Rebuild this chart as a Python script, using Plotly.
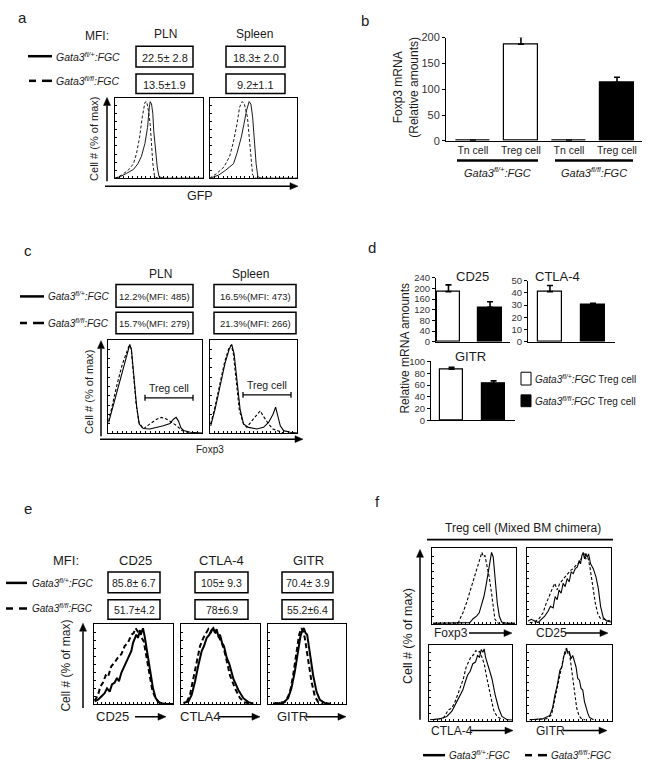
import math
import plotly.graph_objects as go

W, H = 650, 773
FONT = "Arial, Liberation Sans, sans-serif"

# ---------------- data ----------------
# panel a : GFP histograms (channel 0-100, % of max)
a_pln_solid_x = [0, 6, 13, 21, 26, 30, 34, 37, 39, 40, 41.5, 43, 44, 46, 48, 50, 55, 100]
a_pln_solid_y = [0, 2, 6, 11, 18, 27, 43, 63, 88, 95, 92, 80, 59, 35, 14, 2, 0, 0]
a_pln_dash_x = [0, 7.5, 15, 21, 24.5, 28, 31, 34, 36, 38, 40, 41.5, 43, 45, 49, 100]
a_pln_dash_y = [0, 4, 10, 18, 31, 51, 76, 94, 95, 84, 67, 43, 18, 2, 0, 0]
a_spl_solid_x = [0, 2, 10, 18, 27, 31, 36, 39, 42, 45, 47, 49, 51, 53, 55, 59, 100]
a_spl_solid_y = [0, 1, 4, 10, 18, 31, 51, 67, 84, 95, 92, 76, 47, 18, 2, 0, 0]
a_spl_dash_x = [0, 2, 8, 16, 22.5, 26.5, 31, 34, 37, 39.5, 43, 45, 47, 49, 53, 100]
a_spl_dash_y = [0, 2, 6, 14, 27, 43, 67, 88, 95, 92, 76, 51, 22, 4, 0, 0]

# panel b : Foxp3 mRNA
b_categories = ["Tn cell", "Treg cell", "Tn cell", "Treg cell"]
b_values = [1, 187, 1, 113]
b_errors = [0, 15, 0, 10]
b_colors = ["white", "white", "black", "black"]
b_groups = ["<i>Gata3<sup>fl/+</sup>:FGC</i>", "<i>Gata3<sup>fl/fl</sup>:FGC</i>"]

# panel c : Foxp3 histograms
c_pln_solid_x = [0.7, 5.4, 10.7, 16, 20.4, 23.2, 25, 27.5, 30.4, 33.2, 37.5, 44.6, 51.8, 58.9, 66, 69.6, 72.5, 75, 77.5, 80.4, 87.5, 100]
c_pln_solid_y = [11.6, 29, 50, 71, 85, 95, 89, 64, 29, 10, 5, 4.5, 6, 8, 10.5, 15, 17, 13, 6, 3, 1, 0.3]
c_pln_dash_x = [0.7, 4.6, 9.6, 15, 19.6, 22.5, 24.6, 27.1, 30, 32.9, 37.5, 44.6, 51.8, 57.1, 62.5, 67.9, 73.2, 78.6, 87.5]
c_pln_dash_y = [13, 31, 52, 73, 87, 94, 91, 66, 31, 11.6, 4.6, 10, 15, 17, 15, 11.6, 8, 3, 0.3]
c_spl_solid_x = [0.8, 5.8, 11.5, 17.3, 22.3, 25, 27.7, 30.8, 34.6, 38.5, 44.2, 53.8, 61.5, 67.3, 72.3, 75.4, 77.7, 80.8, 84.6, 92.3, 100]
c_spl_solid_y = [8, 25.6, 50, 75, 90.5, 95, 85, 57, 25.6, 10, 6.3, 4.6, 6.3, 11.6, 20, 28, 20, 8, 2.8, 1, 0.3]
c_spl_dash_x = [0.8, 5.4, 11.2, 16.9, 21.9, 24.6, 26.9, 30, 33.8, 38.5, 42.3, 48.1, 53.8, 57.7, 61.5, 67.3, 72.3, 76.9, 84.6]
c_spl_dash_y = [10, 27, 52, 76.5, 91.6, 94.4, 84.6, 55, 24, 10, 6.3, 13.3, 20, 24, 18, 10, 4.6, 2.8, 0.3]

# panel d : relative mRNA amounts
d_cd25_values = [188, 129]
d_cd25_errors = [25, 21]
d_ctla4_values = [41, 30]
d_ctla4_errors = [5, 1.5]
d_gitr_values = [87, 62]
d_gitr_errors = [3, 5]

# panel e : CD25 / CTLA4 / GITR histograms
e_cd25_solid_x = [0.8, 5.1, 9.3, 13.5, 16.5, 19.8, 22.8, 26.2, 29.1, 31.6, 34.6, 37.6, 40.9, 44.3, 47.3, 49.4, 51.5, 53.6, 55.7, 57.8, 59.9, 62, 64.1, 66.2, 68.4, 71.3, 74.7, 78.1, 81.9, 87.3, 100]
e_cd25_solid_y = [3.3, 5.3, 9.4, 13.5, 19.6, 15.5, 24.5, 26.9, 32.7, 28.6, 39.2, 46.1, 52.2, 61.2, 66.5, 76.7, 80.8, 86.9, 82.9, 91, 89, 95, 84.9, 72.7, 56.3, 38, 19.6, 7.3, 2.4, 0.4, 0]
e_cd25_dash_x = [0.8, 5.1, 8, 11.4, 14.8, 17.7, 21.9, 26.2, 30.4, 34.6, 38.8, 43, 47.3, 50.2, 52.7, 55.3, 57.8, 60.3, 62.9, 66.2, 69.6, 73.8, 78.1, 83.1, 91.6]
e_cd25_dash_y = [4.1, 11.4, 21.6, 26.9, 35.9, 33.9, 47.3, 52.2, 58.4, 62.4, 72.7, 76.7, 86.9, 89, 95.1, 91, 93.9, 82.9, 78.8, 60.4, 38, 17.6, 6.5, 1.2, 0]
e_ctla4_solid_x = [3, 9.3, 13.5, 17.7, 21.9, 26.2, 29.1, 32.5, 35.9, 38.8, 40.9, 43, 45.1, 47.3, 49.4, 51.9, 54.4, 57.8, 61.2, 66.2, 72.6, 78.9, 85.2, 91.6]
e_ctla4_solid_y = [1.2, 3.3, 11.4, 27.8, 48.2, 66.5, 72.7, 82.9, 86.9, 93, 95.1, 89, 93.9, 84.9, 86.9, 76.7, 72.7, 58.4, 50.2, 31.8, 17.6, 7.3, 2.4, 0.4]
e_ctla4_dash_x = [7.2, 11.4, 15.6, 19.8, 24.1, 28.3, 31.6, 34.6, 37.6, 40.1, 43, 46, 48.5, 51.5, 54.4, 57.8, 62, 68.4, 74.7, 81, 87.3]
e_ctla4_dash_y = [2.4, 11.4, 31.8, 52.2, 72.7, 82.9, 89.8, 93.9, 89, 95.1, 91, 86.9, 82.9, 76.7, 68.6, 54.3, 35.9, 19.6, 7.3, 2, 0.4]
e_gitr_solid_x = [6.4, 19.3, 25.8, 30, 34.3, 38.6, 41.6, 44.2, 45.9, 48.1, 50.2, 53.6, 57.9, 62.2, 66.5, 73, 79.4]
e_gitr_solid_y = [0.4, 1.2, 7.3, 19.6, 40, 68.6, 84.9, 93, 95.1, 89, 86.9, 64.5, 35.9, 15.5, 5.3, 1.2, 0.4]
e_gitr_dash_x = [6.4, 21.5, 25.8, 28.8, 32.2, 36.5, 39.9, 42.9, 45.1, 47.2, 51.5, 55.8, 60.1, 64.4, 70.8]
e_gitr_dash_y = [0.4, 2.4, 9.4, 17.6, 35.9, 64.5, 86.9, 95.1, 91, 82.9, 56.3, 27.8, 9.4, 2.4, 0.4]

# panel f : mixed BM chimera histograms
f_foxp3_solid_x = [1.2, 37, 45, 49, 53, 56.2, 59, 61.8, 64.1, 65.7, 67.3, 68.9, 70.9, 72.9, 74.9, 77.7, 80.1, 82.9, 88.8, 98.8]
f_foxp3_solid_y = [1.3, 1.3, 2.2, 7.3, 10.8, 15.1, 25.9, 36.6, 49.6, 60.3, 66.8, 81.9, 94.8, 88.4, 62.5, 28, 10.8, 3, 1.3, 1.3]
f_foxp3_dash_x = [1.2, 31.1, 33.9, 37.1, 41, 45, 49.8, 53.8, 57, 59.4, 61, 63, 65, 68.1, 70.9, 72.9, 74.9, 78.9, 98.8]
f_foxp3_dash_y = [1.3, 1.3, 8.6, 15.9, 28, 43.1, 58.2, 73.3, 86.2, 94.8, 89.2, 90.5, 79.7, 62.5, 40.9, 19.4, 6.5, 1.3, 1.3]
f_cd25_solid_x = [1.2, 5.2, 9.2, 13.1, 17.1, 21.1, 25.1, 27.9, 31.1, 33.5, 35.9, 38.2, 40.6, 43, 45.4, 47.8, 50.2, 52.6, 55, 57.4, 59.8, 62.2, 63.7, 65.3, 66.9, 68.5, 70.1, 71.7, 73.3, 75.7, 78.9, 82.1, 84.9, 87.6, 90.8, 94.8, 100]
f_cd25_solid_y = [4.3, 6.5, 4.3, 2.2, 6.5, 10.8, 17.2, 23.7, 21.6, 36.6, 32.3, 45.3, 40.9, 53.9, 49.6, 60.3, 56, 69, 66.8, 73.3, 75.4, 84.1, 79.7, 90.5, 94.8, 86.2, 93.5, 88.4, 92.7, 79.7, 73.3, 62.5, 47.4, 23.7, 8.6, 4.3, 3]
f_cd25_dash_x = [3.2, 9.2, 14.3, 19.1, 22.3, 25.1, 27.9, 30.3, 33.1, 35.9, 39, 42.2, 45.4, 48.6, 51.8, 55, 58.2, 61, 63.7, 66.1, 68.1, 70.1, 72.5, 74.9, 78.1, 81.3, 84.5, 87.6, 91.6, 95.6, 100]
f_cd25_dash_y = [2.2, 3, 7.3, 15.1, 25.9, 32.3, 40.9, 47.4, 53.9, 45.3, 53.9, 58.2, 62.5, 66.8, 71.1, 73.3, 77.6, 79.7, 84.1, 90.5, 92.7, 86.2, 88.4, 75.4, 53.9, 28, 12.9, 7.3, 6.5, 5.2, 3.9]
f_ctla4_solid_x = [1.2, 13.3, 21.4, 27.4, 33.5, 37.5, 40.7, 43.5, 46.4, 49.6, 52.8, 56, 58.5, 60.9, 62.9, 64.9, 66.5, 68.1, 69.8, 72.2, 75.8, 79.8, 83.9, 87.9, 94, 100]
f_ctla4_solid_y = [1.3, 2.6, 5.7, 12.2, 25.2, 33.9, 40.4, 50.4, 60, 65.2, 75.2, 77.4, 86.1, 83.9, 93.9, 90.4, 94.8, 83.9, 77.4, 70.9, 55.7, 33.9, 16.5, 5.7, 1.3, 0.9]
f_ctla4_dash_x = [5.2, 17.3, 23.4, 27.4, 31.5, 35.5, 38.7, 41.5, 44.8, 47.6, 50.4, 53.6, 56.5, 58.5, 60.9, 63.7, 66.5, 69.8, 73.8, 77.8, 81.9, 87.9]
f_ctla4_dash_y = [1.3, 3.5, 14.3, 16.5, 25.2, 36.1, 47, 55.7, 70.9, 77.4, 83.9, 87, 92.6, 90.4, 91.3, 83.9, 75.2, 55.7, 33.9, 14.3, 5.7, 1.3]
f_gitr_solid_x = [3.2, 19, 26.9, 30, 32.8, 35.6, 38.7, 41.1, 43.5, 45.1, 46.6, 48.2, 49.8, 51.8, 53.8, 55.7, 57.7, 59.7, 61.7, 63.6, 65.6, 67.6, 69.6, 71.5, 73.5, 78.3]
f_gitr_solid_y = [1.3, 2.6, 7, 16.5, 33.9, 47, 66.5, 70.9, 86.1, 88.3, 94.8, 90.4, 91.3, 81.7, 86.1, 79.6, 70.9, 55.7, 53.5, 42.6, 40.4, 25.2, 16.5, 10, 4.3, 1.3]
f_gitr_dash_x = [3.2, 22.9, 28.9, 31.6, 34.8, 37.9, 40.7, 42.7, 44.7, 46.6, 48.2, 49.8, 51.4, 53.8, 56.1, 58.5, 60.9, 63.2, 68.4]
f_gitr_dash_y = [1.3, 2.6, 7.8, 20.9, 40.4, 55.7, 70.9, 81.7, 92.6, 95.7, 88.3, 90.4, 77.4, 57.8, 33.9, 16.5, 7.8, 3.5, 0.9]

# ---------------- helpers ----------------
fig = go.Figure()
shapes, anns, axes = [], [], {}
counter = [0]
TXT = "#1a1a1a"


def new_axes(l, t, r, b, xopt, yopt):
    counter[0] += 1
    k = counter[0]
    s = "" if k == 1 else str(k)
    axes["xaxis" + s] = dict(domain=[l / W, r / W], anchor="y" + s, **xopt)
    axes["yaxis" + s] = dict(domain=[1 - b / H, 1 - t / H], anchor="x" + s, **yopt)
    return "x" + s, "y" + s


def text(x, y, s, size=12, xanchor="center", angle=0, color=TXT):
    anns.append(dict(x=x / W, y=1 - y / H, xref="paper", yref="paper", text=s,
                     showarrow=False, xanchor=xanchor, yanchor="middle", textangle=angle,
                     font=dict(size=size, family=FONT, color=color)))


def line(x0, y0, x1, y1, w=1.5):
    shapes.append(dict(type="line", xref="paper", yref="paper", x0=x0 / W, y0=1 - y0 / H,
                       x1=x1 / W, y1=1 - y1 / H, line=dict(color="black", width=w)))


def rect(x0, y0, x1, y1, w=1.5, fill="rgba(0,0,0,0)"):
    shapes.append(dict(type="rect", xref="paper", yref="paper", x0=x0 / W, y0=1 - y1 / H,
                       x1=x1 / W, y1=1 - y0 / H, line=dict(color="black", width=w), fillcolor=fill))


def arrow(x0, y0, x1, y1, w=1.5, hl=8, hw=3.5):
    dx, dy = x1 - x0, y1 - y0
    n = math.hypot(dx, dy)
    ux, uy = dx / n, dy / n
    bx, by = x1 - ux * hl, y1 - uy * hl
    line(x0, y0, bx, by, w)
    px_, py_ = -uy * hw, ux * hw
    pts = [(x1, y1), (bx + px_, by + py_), (bx - px_, by - py_)]
    path = "M " + " L ".join(f"{x / W:.5f},{1 - y / H:.5f}" for x, y in pts) + " Z"
    shapes.append(dict(type="path", xref="paper", yref="paper", path=path,
                       fillcolor="black", line=dict(color="black", width=0.5)))


def flow_frame(l, t, r, b):
    common = dict(showline=True, mirror=True, linecolor="black", linewidth=1, showgrid=False,
                  zeroline=False, showticklabels=False, ticks="inside", ticklen=2, tickwidth=0.6,
                  tickcolor="black", fixedrange=True)
    return new_axes(l, t, r, b, dict(range=[0, 100], dtick=5, **common),
                    dict(range=[0, 100], dtick=10, **common))


def hist(xa, ya, xs, ys, width, dash):
    fig.add_trace(go.Scatter(x=xs, y=ys, mode="lines", xaxis=xa, yaxis=ya, showlegend=False,
                             hoverinfo="skip", line=dict(color="black", width=width, dash=dash)))


def bar_axes(l, t, r, b, xr, yr, dtick, tickfont, tickvals=None, ticktext=None):
    xopt = dict(range=xr, showline=True, linecolor="black", linewidth=1, showgrid=False,
                zeroline=False, ticks="", fixedrange=True)
    if tickvals is not None:
        xopt.update(tickmode="array", tickvals=tickvals, ticktext=ticktext,
                    tickfont=dict(size=10.5, family=FONT, color=TXT))
    else:
        xopt.update(showticklabels=False)
    yopt = dict(range=yr, dtick=dtick, showline=True, linecolor="black", linewidth=1,
                showgrid=False, zeroline=False, ticks="outside", ticklen=3, tickcolor="black",
                tickfont=dict(size=tickfont, family=FONT, color="#333"), fixedrange=True)
    return new_axes(l, t, r, b, xopt, yopt)


def bars(xa, ya, xs, vals, errs, colors, width):
    fig.add_trace(go.Bar(x=xs, y=vals, xaxis=xa, yaxis=ya, width=width, showlegend=False,
                         marker=dict(color=colors, line=dict(color="black", width=1.2)),
                         error_y=dict(type="data", symmetric=False, array=errs,
                                      arrayminus=[0] * len(errs), color="black",
                                      thickness=1.6, width=3)))


GENO_P = "<i>Gata3<sup>fl/+</sup>:FGC</i>"
GENO_F = "<i>Gata3<sup>fl/fl</sup>:FGC</i>"

# ---------------- panel a ----------------
text(22, 12, "a", 15)
text(97, 30, "MFI:", 12)
text(165, 28, "PLN", 12)
text(254, 28, "Spleen", 12)
line(28, 51, 52, 51, 2.5)
text(54, 51, GENO_P, 10.5, "left")
line(29, 76, 36, 76, 2.5)
line(42, 76, 52, 76, 2.5)
text(54, 76, GENO_F, 10.5, "left")
a_boxes = [["22.5± 2.8", "18.3± 2.0"], ["13.5±1.9", "9.2±1.1"]]
for ri, (y0, y1) in enumerate([(41, 62), (69, 89)]):
    for ci, (x0, x1) in enumerate([(136, 193), (226, 285)]):
        rect(x0, y0, x1, y1, 1.5)
        text((x0 + x1) / 2, (y0 + y1) / 2 + 1, a_boxes[ri][ci], 11)
xa, ya = flow_frame(115, 93, 203, 175)
hist(xa, ya, a_pln_solid_x, a_pln_solid_y, 0.9, "solid")
hist(xa, ya, a_pln_dash_x, a_pln_dash_y, 0.9, "3px,2px")
xa, ya = flow_frame(210, 93, 297, 175)
hist(xa, ya, a_spl_solid_x, a_spl_solid_y, 0.9, "solid")
hist(xa, ya, a_spl_dash_x, a_spl_dash_y, 0.9, "3px,2px")
arrow(107, 178, 107, 93, 1.5)
arrow(105, 183, 298, 183, 1.5)
text(200, 193, "GFP", 12.5)
text(94, 135, "Cell # (% of max)", 11, angle=-90)

# ---------------- panel b ----------------
text(365, 15, "b", 15)
xa, ya = bar_axes(446, 32, 642, 137, [-0.56, 3.52], [0, 200], 50, 11,
                  tickvals=[0, 1, 2, 3], ticktext=b_categories)
bars(xa, ya, [0, 1, 2, 3], b_values, b_errors, b_colors, 0.71)
text(406, 83, "Foxp3 mRNA<br>(Relative amounts)", 12, angle=-90)
line(457, 157, 538, 157, 2.5)
line(555, 157, 633, 157, 2.5)
text(497, 169, b_groups[0], 11)
text(594, 169, b_groups[1], 11)

# ---------------- panel c ----------------
text(28, 248, "c", 15)
text(160, 272, "PLN", 12)
text(250, 272, "Spleen", 12)
line(20, 295, 44, 295, 2.5)
text(46, 295, GENO_P, 10, "left")
line(20, 322, 27, 322, 2.5)
line(33, 322, 44, 322, 2.5)
text(46, 322, GENO_F, 10, "left")
c_boxes = [["12.2%(MFI: 485)", "16.5%(MFI: 473)"], ["15.7%(MFI: 279)", "21.3%(MFI: 266)"]]
for ri, (y0, y1) in enumerate([(283, 306), (311, 333)]):
    for ci, (x0, x1) in enumerate([(116, 193), (214, 296)]):
        rect(x0, y0, x1, y1, 1.5)
        text((x0 + x1) / 2, (y0 + y1) / 2 + 1, c_boxes[ri][ci], 9.5)
xa, ya = flow_frame(108, 339, 202, 434)
hist(xa, ya, c_pln_solid_x, c_pln_solid_y, 1.1, "solid")
hist(xa, ya, c_pln_dash_x, c_pln_dash_y, 1.1, "3px,2px")
xa, ya = flow_frame(210, 339, 297, 434)
hist(xa, ya, c_spl_solid_x, c_spl_solid_y, 1.1, "solid")
hist(xa, ya, c_spl_dash_x, c_spl_dash_y, 1.1, "3px,2px")
for (bx0, bx1, by) in [(145, 193, 398), (243, 291, 395)]:
    line(bx0, by, bx1, by, 1.3)
    line(bx0, by - 3, bx0, by + 3, 1.3)
    line(bx1, by - 3, bx1, by + 3, 1.3)
    text((bx0 + bx1) / 2, by - 10, "Treg cell", 10.5)
arrow(101, 437, 101, 340, 1.5)
arrow(100, 440, 303, 440, 1.5)
text(210, 451, "Foxp3", 10)
text(89, 392, "Cell # (% of max)", 11, angle=-90)

# ---------------- panel d ----------------
text(372, 245, "d", 15)
xa, ya = bar_axes(436, 276, 510, 341, [-0.3, 1.48], [0, 240], 40, 9.5)
bars(xa, ya, [0, 1], d_cd25_values, d_cd25_errors, ["white", "black"], 0.57)
xa, ya = bar_axes(528, 279, 615, 341, [-0.51, 1.51], [0, 50], 10, 9.5)
bars(xa, ya, [0, 1], d_ctla4_values, d_ctla4_errors, ["white", "black"], 0.56)
xa, ya = bar_axes(431, 361, 515, 421, [-0.49, 1.51], [0, 100], 20, 9.5)
bars(xa, ya, [0, 1], d_gitr_values, d_gitr_errors, ["white", "black"], 0.55)
text(472, 275, "CD25", 13)
text(557, 275, "CTLA-4", 13)
text(470, 356, "GITR", 13)
text(405, 348, "Relative mRNA amounts", 12, angle=-90)
rect(521, 372, 531, 385, 1, "white")
rect(521, 395, 531, 407, 1, "black")
text(533, 379, GENO_P + " Treg cell", 10, "left")
text(533, 401, GENO_F + " Treg cell", 10, "left")

# ---------------- panel e ----------------
text(28, 510, "e", 15)
text(66, 563, "MFI:", 13)
text(135, 563, "CD25", 13)
text(221, 563, "CTLA-4", 13)
text(308, 563, "GITR", 13)
line(6, 586, 27, 586, 2.5)
text(30, 586, GENO_P, 10, "left")
line(6, 612, 13, 612, 2.5)
line(19, 612, 27, 612, 2.5)
text(30, 612, GENO_F, 10, "left")
e_boxes = [["85.8± 6.7", "105± 9.3", "70.4± 3.9"], ["51.7±4.2", "78±6.9", "55.2±6.4"]]
for ri, (y0, y1) in enumerate([(575, 596), (603, 623)]):
    for ci, (x0, x1) in enumerate([(108, 160), (195, 248), (282, 333)]):
        rect(x0, y0, x1, y1, 1.5)
        text((x0 + x1) / 2, (y0 + y1) / 2 + 1, e_boxes[ri][ci], 10.5)
e_frames = [(94, 173), (181, 260), (268, 346)]
e_curves = [(e_cd25_solid_x, e_cd25_solid_y, e_cd25_dash_x, e_cd25_dash_y),
            (e_ctla4_solid_x, e_ctla4_solid_y, e_ctla4_dash_x, e_ctla4_dash_y),
            (e_gitr_solid_x, e_gitr_solid_y, e_gitr_dash_x, e_gitr_dash_y)]
for (l, r), (sx, sy, dx, dy) in zip(e_frames, e_curves):
    xa, ya = flow_frame(l, 628, r, 709)
    hist(xa, ya, sx, sy, 2, "solid")
    hist(xa, ya, dx, dy, 2, "5px,3px")
arrow(83, 713, 83, 627, 1.5)
text(66, 670, "Cell # (% of max)", 12, angle=-90)
text(94, 722, "CD25", 13, "left")
arrow(135, 722, 166, 722, 1.5)
text(178, 722, "CTLA4", 13, "left")
arrow(219, 722, 260, 722, 1.5)
text(275, 722, "GITR", 13, "left")
arrow(306, 722, 346, 722, 1.5)

# ---------------- panel f ----------------
text(377, 503, "f", 15)
text(523, 530, "Treg cell (Mixed BM chimera)", 12)
line(427, 542, 613, 542, 1.8)
f_frames = [(432, 551, 516, 628), (527, 551, 611, 628), (429, 649, 512, 726), (527, 649, 612, 726)]
f_curves = [(f_foxp3_solid_x, f_foxp3_solid_y, f_foxp3_dash_x, f_foxp3_dash_y),
            (f_cd25_solid_x, f_cd25_solid_y, f_cd25_dash_x, f_cd25_dash_y),
            (f_ctla4_solid_x, f_ctla4_solid_y, f_ctla4_dash_x, f_ctla4_dash_y),
            (f_gitr_solid_x, f_gitr_solid_y, f_gitr_dash_x, f_gitr_dash_y)]
for (l, t, r, b), (sx, sy, dx, dy) in zip(f_frames, f_curves):
    xa, ya = flow_frame(l, t, r, b)
    hist(xa, ya, sx, sy, 1.1, "solid")
    hist(xa, ya, dx, dy, 1.1, "3px,2px")
f_labels = [("Foxp3", 432, 637, 469, 512), ("CD25", 534, 637, 565, 608),
            ("CTLA-4", 429, 736, 470, 513), ("GITR", 534, 736, 563, 607)]
for lab, tx, ty, a0, a1 in f_labels:
    text(tx, ty, lab, 12, "left")
    arrow(a0, ty, a1, ty, 1.5)
arrow(420, 725, 420, 552, 1.5)
text(408, 640, "Cell # (% of max)", 12.5, angle=-90)
line(423, 761, 445, 761, 2.5)
text(447, 761, GENO_P, 10, "left")
line(525, 761, 532, 761, 2.5)
line(538, 761, 547, 761, 2.5)
text(549, 761, GENO_F, 10, "left")

fig.update_layout(width=W, height=H, margin=dict(l=0, r=0, t=0, b=0),
                  paper_bgcolor="white", plot_bgcolor="white", showlegend=False,
                  shapes=shapes, annotations=anns, bargap=0, **axes)
fig.write_html("out.html", config={"displayModeBar": False},
               post_script="document.body.style.margin='0';")
